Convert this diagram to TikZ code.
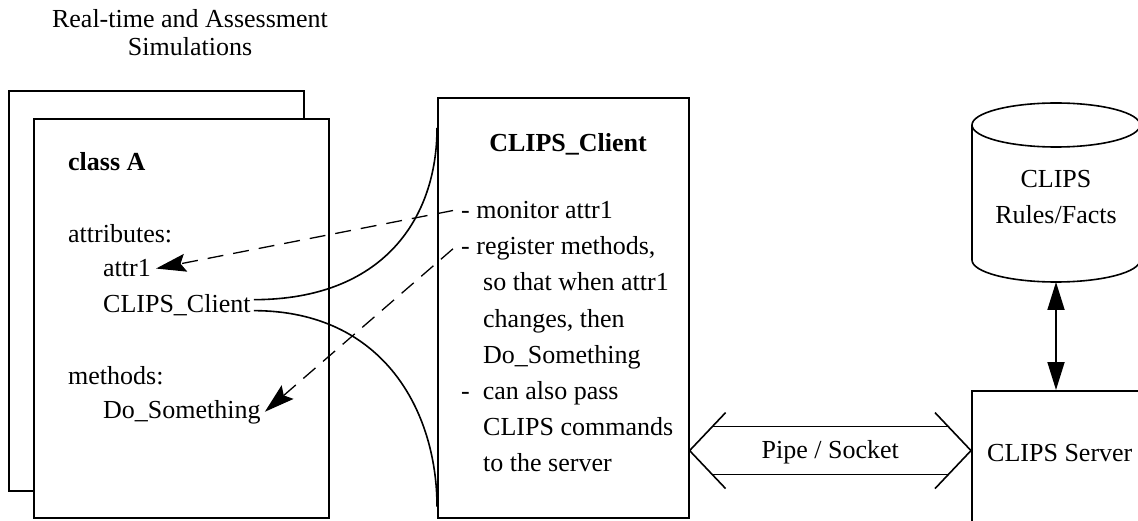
\documentclass[tikz,border=0pt]{standalone}
\usepackage{fontspec}
\setmainfont{Liberation Serif}
\usetikzlibrary{arrows.meta,calc}
\begin{document}
\begin{tikzpicture}[x=1pt,y=-1pt,
  every node/.style={font=\fontsize{26}{36}\selectfont, inner sep=0pt},
  txt/.style={anchor=base west},
  boldtxt/.style={font=\fontsize{26}{36}\selectfont\bfseries},
  boxline/.style={line width=1.6pt},
  link/.style={line width=1.6pt},
  dasharrow/.style={line width=1.3pt, dash pattern=on 16pt off 10pt,
    -{Stealth[length=30pt,width=18pt,inset=5pt]}},
  dbl/.style={line width=1.8pt,
    {Triangle[length=28pt,width=17pt]}-{Triangle[length=28pt,width=17pt]}},
]
\useasboundingbox (0,0) rectangle (1138,521);
\clip (0,0) rectangle (1138,521);

% title
\node[anchor=base] (title1) at (190,28) {Real-time and Assessment};
\node[anchor=base] (title2) at (190,56) {Simulations};

% class boxes
\node[draw, boxline, anchor=north west, minimum width=295pt, minimum height=400pt] (back) at (8,90) {};
\node[draw, boxline, fill=white, anchor=north west, minimum width=295pt, minimum height=399pt] (front) at (33,118) {};

\node[txt, boldtxt] (classA) at (68,171) {class A};
\node[txt] (attrs) at (68,243) {attributes:};
\node[txt] (attr1) at (103,277) {attr1};
\node[txt] (cc) at (103,313) {CLIPS\_Client};
\node[txt] (methods) at (68,384) {methods:};
\node[txt] (dosom) at (103,418) {Do\_Something};

% client box
\node[draw, boxline, anchor=north west, minimum width=251pt, minimum height=420pt] (mid) at (437,97) {};
\node[anchor=base, boldtxt] (cctitle) at (568,152) {CLIPS\_Client};
\node[txt] (l1) at (461,219) {- monitor attr1};
\node[txt] (l2) at (461,255) {- register methods,};
\node[txt] (l3) at (483,291) {so that when attr1};
\node[txt] (l4) at (483,327) {changes, then};
\node[txt] (l5) at (483,363) {Do\_Something};
\node[txt] (l6) at (461,399) {-\ \ can also pass};
\node[txt] (l7) at (483,435) {CLIPS commands};
\node[txt] (l8) at (483,471) {to the server};

% server
\node[draw, boxline, anchor=north west, minimum width=250pt, minimum height=200pt] (server) at (971,390) {};
\node[txt] (servtext) at (987,461) {CLIPS Server};

% database cylinder
\draw[boxline, fill=white] (972,125) -- (972,260) arc[start angle=180, end angle=360, x radius=84pt, y radius=22pt] -- (1140,125);
\draw[boxline] (1056,125) ellipse[x radius=84pt, y radius=22pt];
\coordinate (dbbot) at (1056,282);
\node[anchor=base] (db1) at (1056,188) {CLIPS};
\node[anchor=base] (db2) at (1056,224) {Rules/Facts};
\draw[dbl] (dbbot) -- (dbbot |- server.north);

% curves linking CLIPS_Client attribute to client box
\coordinate (cu) at ([xshift=3pt,yshift=6pt]cc.east);
\coordinate (cl) at ([xshift=3pt,yshift=-5pt]cc.east);
\draw[link] (cu) .. controls +(130,0) and +(0,90) .. ([yshift=-31pt]mid.north west);
\draw[link] (cl) .. controls +(130,0) and +(0,-95) .. ([yshift=12pt]mid.south west);

% dashed arrows
\draw[dasharrow] ([xshift=-8pt]l1.west) -- ([xshift=5pt]attr1.east);
\draw[dasharrow] ([xshift=-8pt]l2.west) -- ([xshift=4pt]dosom.east);

% pipe / socket double arrow
\coordinate (pl) at ([yshift=68pt]mid.south east);
\coordinate (pr) at (server.west |- pl);
\draw[link] (pl) ++(36,-38) -- (pl) -- ++(36,38);
\draw[link] (pr) ++(-36,-38) -- (pr) -- ++(-36,38);
\draw[link] ($(pl)+(23,-24)$) -- ($(pr)+(-23,-24)$);
\draw[link] ($(pl)+(23,24)$) -- ($(pr)+(-23,24)$);
\node[anchor=base] (pipe) at ($(pl)!0.5!(pr)+(0,8)$) {Pipe / Socket};
\end{tikzpicture}
\end{document}
